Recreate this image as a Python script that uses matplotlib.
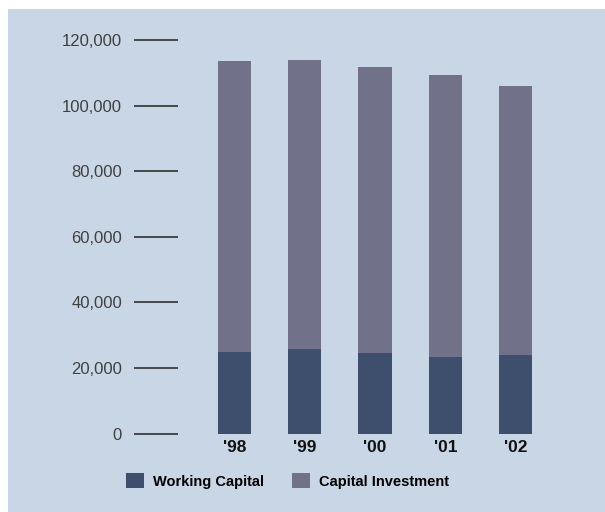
import matplotlib.pyplot as plt
from matplotlib.patches import Rectangle, Patch

years = ["'98", "'99", "'00", "'01", "'02"]
working_capital = [24900, 25700, 24600, 23300, 23900]
capital_investment = [88800, 88300, 87300, 86100, 82200]
y_ticks = [0, 20000, 40000, 60000, 80000, 100000, 120000]

panel_color = '#c9d6e5'
working_color = '#3d4f6c'
invest_color = '#717189'
bold_font = ['Liberation Sans Narrow', 'Liberation Sans', 'DejaVu Sans']

W, H = 605, 512
fig = plt.figure(figsize=(W / 100, H / 100), dpi=100, facecolor='white')

# light blue panel behind the chart
fig.patches.append(Rectangle((8 / W, 0), 1 - 8 / W, (H - 9) / H,
                             transform=fig.transFigure, facecolor=panel_color,
                             edgecolor='none', zorder=-10))

ax = fig.add_axes([178 / W, (H - 433.5) / H, (590 - 178) / W, (433.5 - 40) / H])
ax.set_facecolor('none')
ax.set_zorder(5)

x = list(range(len(years)))
ax.bar(x, working_capital, width=0.47, color=working_color, label='Working Capital')
ax.bar(x, capital_investment, width=0.47, bottom=working_capital,
       color=invest_color, label='Capital Investment')

ax.set_xlim(-0.804, 5.06)
ax.set_ylim(0, 120000)

for s in ax.spines.values():
    s.set_visible(False)

ax.set_yticks(y_ticks)
ax.set_yticklabels([f'{v:,}' for v in y_ticks], family='Liberation Sans',
                   fontsize=12, color='#404040')
ax.tick_params(axis='y', length=31.7, width=1.1, color='#222222', pad=8.6)

ax.set_xticks(x)
ax.set_xticklabels(years, family=bold_font, fontweight='bold', fontsize=12.5,
                   color='#111111')
ax.tick_params(axis='x', length=0, pad=5.0)

handles = [Patch(facecolor=working_color, label='Working Capital'),
           Patch(facecolor=invest_color, label='Capital Investment')]
fig.legend(handles=handles, loc='center left', bbox_to_anchor=(126 / W, (H - 480.7) / H),
           ncol=2, frameon=False, borderpad=0, borderaxespad=0,
           handlelength=1.25, handleheight=1.25,
           handletextpad=0.6, columnspacing=1.9,
           prop={'family': bold_font, 'weight': 'bold', 'size': 10.5})

fig.savefig('out.png', dpi=100, facecolor='white')
